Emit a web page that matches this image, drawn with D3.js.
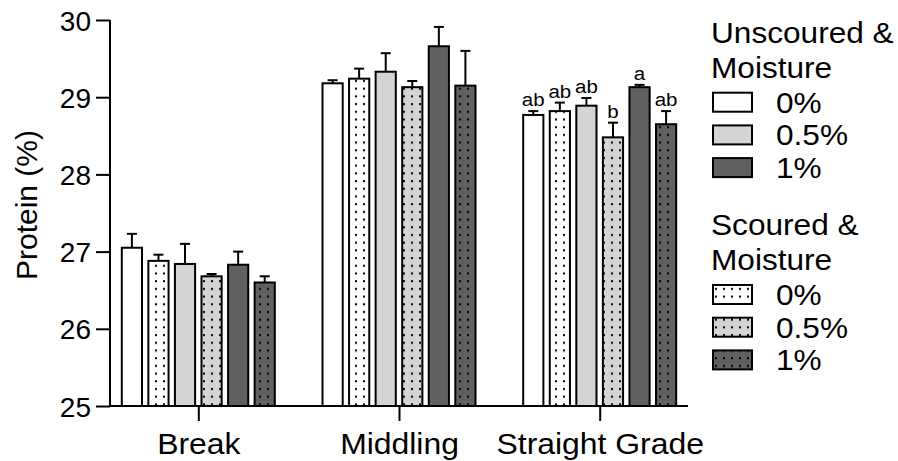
<!DOCTYPE html>
<html>
<head>
<meta charset="utf-8">
<script src="https://cdn.jsdelivr.net/npm/d3@7"></script>
<style>
  html, body { margin: 0; padding: 0; background: #fff; }
  text { font-family: Arial, "Liberation Sans", sans-serif; fill: #000; }
</style>
</head>
<body>
<svg id="chart" width="898" height="461"></svg>
<script>
// ---- data ----
const categories = ["Break", "Middling", "Straight Grade"];
const seriesNames = ["Unscoured 0%", "Scoured 0%", "Unscoured 0.5%", "Scoured 0.5%", "Unscoured 1%", "Scoured 1%"];
const means = [
  [27.05, 26.88, 26.84, 26.68, 26.83, 26.60],
  [29.18, 29.24, 29.33, 29.13, 29.66, 29.15],
  [28.77, 28.82, 28.89, 28.48, 29.13, 28.65]
];
const errors = [
  [0.18, 0.08, 0.26, 0.03, 0.17, 0.08],
  [0.04, 0.13, 0.24, 0.08, 0.25, 0.45],
  [0.05, 0.11, 0.10, 0.19, 0.03, 0.17]
];
const letters = [
  null, null,
  ["ab", "ab", "ab", "b", "a", "ab"]
];
const yTicks = [25, 26, 27, 28, 29, 30];
const legendGroups = [
  { title: ["Unscoured &", "Moisture"], items: ["0%", "0.5%", "1%"], series: [0, 2, 4] },
  { title: ["Scoured &", "Moisture"], items: ["0%", "0.5%", "1%"], series: [1, 3, 5] }
];

// ---- styles ----
const fills = ["#ffffff", "#ffffff", "#d4d4d4", "#d4d4d4", "#606060", "#606060"];
const dotted = [false, true, false, true, false, true];
const stretch = 1.09;

const svg = d3.select("#chart");
const defs = svg.append("defs");
function makePattern(id, bg) {
  const p = defs.append("pattern").attr("id", id)
    .attr("patternUnits", "userSpaceOnUse").attr("width", 8).attr("height", 7.7);
  p.append("rect").attr("width", 8).attr("height", 7.7).attr("fill", bg);
  p.append("rect").attr("x", 3).attr("y", 3).attr("width", 2).attr("height", 2).attr("fill", "#000");
}
makePattern("dot0", "#ffffff");
makePattern("dot1", "#d4d4d4");
makePattern("dot2", "#606060");
function fillFor(i) {
  return dotted[i] ? `url(#dot${Math.floor(i / 2)})` : fills[i];
}

const x0 = 110, x1 = 688, yTop = 20, yBot = 406;
const y = d3.scaleLinear().domain([25, 30]).range([yBot, yTop]);
const xGroup = d3.scalePoint().domain(categories).range([x0, x1]).padding(0.44);
const xBar = d3.scaleBand().domain(d3.range(6)).range([-76.5, 76.5]).paddingInner(0.24);

const g = svg.append("g");

// bars
categories.forEach((cat, ci) => {
  const gx = xGroup(cat);
  means[ci].forEach((m, si) => {
    const bx = gx + xBar(si);
    const bw = xBar.bandwidth();
    const cx = bx + bw / 2;
    const topE = m + errors[ci][si];
    g.append("line").attr("x1", cx).attr("x2", cx).attr("y1", y(m)).attr("y2", y(topE))
      .attr("stroke", "#000").attr("stroke-width", 2);
    g.append("line").attr("x1", cx - 5).attr("x2", cx + 5).attr("y1", y(topE)).attr("y2", y(topE))
      .attr("stroke", "#000").attr("stroke-width", 2);
    g.append("rect").attr("x", bx).attr("y", y(m)).attr("width", bw).attr("height", y(25) - y(m))
      .attr("fill", fillFor(si)).attr("stroke", "#000").attr("stroke-width", 2);
    if (letters[ci]) {
      g.append("text").attr("transform", `translate(${cx},${y(topE) - 5}) scale(1.08,1)`)
        .attr("text-anchor", "middle").style("font-size", "19px").text(letters[ci][si]);
    }
  });
});

// y axis
const yAxis = d3.axisLeft(y).tickValues(yTicks).tickSize(14).tickPadding(5).tickFormat(d3.format("d"));
const ya = svg.append("g").attr("transform", `translate(${x0},0)`).call(yAxis);
ya.select(".domain").attr("stroke-width", 2).attr("d", `M0,${yBot}V${yTop}`);
ya.selectAll(".tick line").attr("stroke-width", 2);
ya.selectAll(".tick text").style("font-size", "28px").attr("dy", "0.36em");

// x axis
const xAxis = d3.axisBottom(xGroup).tickSize(15).tickPadding(12);
const xa = svg.append("g").attr("transform", `translate(0,${yBot})`).call(xAxis);
xa.select(".domain").attr("stroke-width", 2).attr("d", `M${x0},0H${x1}`);
xa.selectAll(".tick line").attr("stroke-width", 2);
xa.selectAll(".tick text").style("font-size", "29px").attr("dy", "0.71em")
  .attr("transform", "scale(1.1,1)");

// y title
svg.append("text").attr("transform", `translate(37,${205}) rotate(-90)`)
  .attr("text-anchor", "middle").style("font-size", "30px").text("Protein (%)");

// legend
const legTops = [42.7, 235];
legendGroups.forEach((lg, li) => {
  const base = legTops[li];
  lg.title.forEach((t, ti) => {
    svg.append("text").attr("transform", `translate(711,${base + ti * 35}) scale(${stretch},1)`)
      .style("font-size", "29px").text(t);
  });
  lg.items.forEach((it, ii) => {
    const sy = base + 50 + ii * 32.7;
    svg.append("rect").attr("x", 713).attr("y", sy).attr("width", 39).attr("height", 19)
      .attr("fill", fillFor(lg.series[ii])).attr("stroke", "#000").attr("stroke-width", 2);
    svg.append("text").attr("transform", `translate(776,${sy + 20}) scale(${stretch},1)`)
      .style("font-size", "29px").text(it);
  });
});
</script>
</body>
</html>
